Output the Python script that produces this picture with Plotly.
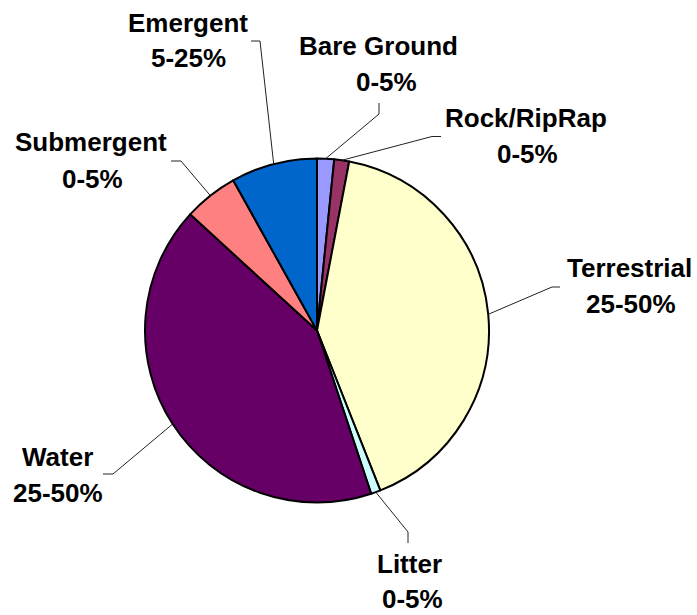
import math
import plotly.graph_objects as go

# ---- data ----
categories = ["Bare Ground", "Rock/RipRap", "Terrestrial", "Litter", "Water", "Submergent", "Emergent"]
values = [1.6, 1.4, 41.0, 0.9, 41.9, 5.1, 8.1]
range_labels = ["0-5%", "0-5%", "25-50%", "0-5%", "25-50%", "0-5%", "5-25%"]
colors = ["#9999FF", "#993366", "#FFFFCC", "#CCFFFF", "#660066", "#FF8080", "#0066CC"]

# ---- layout constants (pixels) ----
W, H = 697, 615
CX, CY, R = 317, 330.5, 172

# label line centres (x, y1, x2, y2), leader elbow and end points
label_pos = {
    "Emergent":    ((188, 23), (188, 58), (260, 41), (251, 41)),
    "Bare Ground": ((379, 46.5), (386, 82), (379, 114), (379, 103)),
    "Rock/RipRap": ((526, 118.5), (527, 154), (432, 136.5), (441, 136.5)),
    "Terrestrial": ((629, 268), (631, 304), (552, 287), (560, 287)),
    "Water":       ((58, 456.5), (58, 493), (113, 474), (103, 474)),
    "Submergent":  ((91, 142), (92, 179), (181, 161), (171, 161)),
    "Litter":      ((409, 564), (412, 599), (408, 532), (408, 543)),
}

def px(x):
    return x / W

def py(y):
    return 1 - y / H

fig = go.Figure(go.Pie(
    labels=categories,
    values=values,
    sort=False,
    direction="clockwise",
    rotation=0,
    marker=dict(colors=colors, line=dict(color="black", width=2)),
    textinfo="none",
    hoverinfo="label+percent",
    showlegend=False,
    domain=dict(x=[px(CX - R), px(CX + R)], y=[py(CY + R), py(CY - R)]),
))

font = dict(family="Liberation Sans, Arial, sans-serif", size=26, color="black")
annotations = []
shapes = []
total = sum(values)
cum = 0.0
for cat, v, rl in zip(categories, values, range_labels):
    mid = (cum + v / 2) / total * 2 * math.pi
    cum += v
    sx = CX + R * math.sin(mid)
    sy = CY - R * math.cos(mid)
    (x1, y1), (x2, y2), (ex, ey), (tx, ty) = label_pos[cat]
    annotations.append(dict(x=px(x1), y=py(y1), xref="paper", yref="paper", text=f"<b>{cat}</b>",
                            showarrow=False, font=font, xanchor="center", yanchor="middle"))
    annotations.append(dict(x=px(x2), y=py(y2), xref="paper", yref="paper", text=f"<b>{rl}</b>",
                            showarrow=False, font=font, xanchor="center", yanchor="middle"))
    shapes.append(dict(type="path", xref="paper", yref="paper",
                       path=f"M {px(sx)} {py(sy)} L {px(ex)} {py(ey)} L {px(tx)} {py(ty)}",
                       line=dict(color="#222222", width=1)))

fig.update_layout(
    width=W, height=H,
    margin=dict(l=0, r=0, t=0, b=0),
    paper_bgcolor="white", plot_bgcolor="white",
    annotations=annotations, shapes=shapes,
)
fig.write_html("out.html", config={"displayModeBar": False},
               post_script="document.body.style.margin='0px';document.body.style.overflow='hidden';")
